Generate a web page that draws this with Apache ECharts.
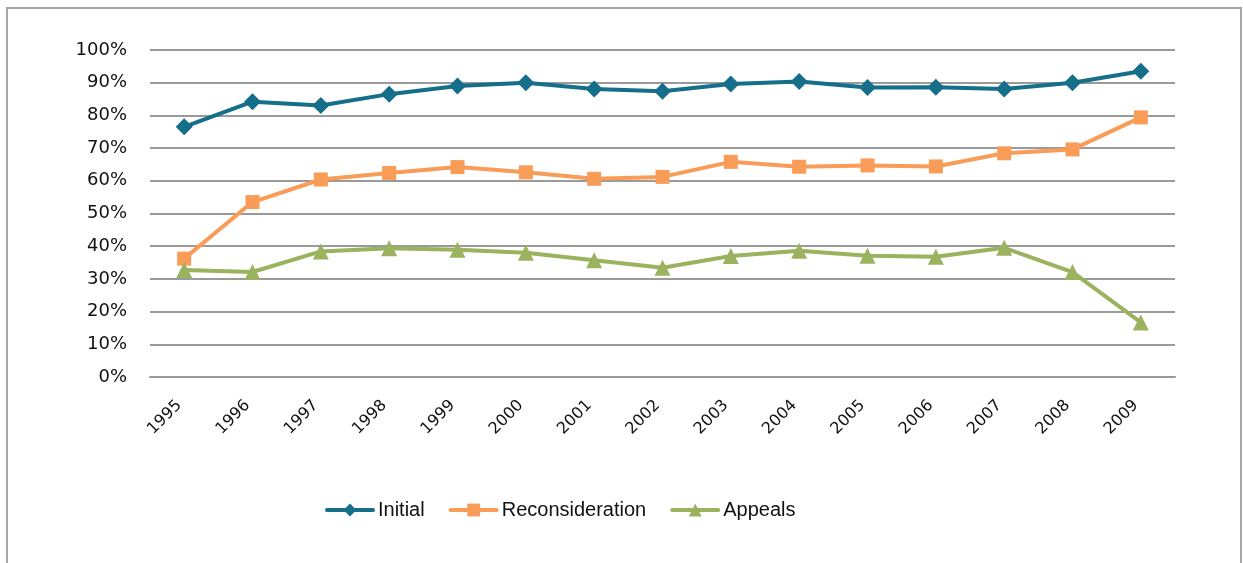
<!DOCTYPE html>
<html><head><meta charset="utf-8">
<script src="https://cdn.jsdelivr.net/npm/echarts@6/dist/echarts.min.js"></script>
<style>html,body{margin:0;padding:0;background:#fff}#c{width:1243px;height:563px}</style>
</head><body><div id="c"></div>
<script>
const years = ['1995','1996','1997','1998','1999','2000','2001','2002','2003','2004','2005','2006','2007','2008','2009'];
const initial = [76.5, 84.2, 83.0, 86.5, 89.0, 90.0, 88.1, 87.4, 89.6, 90.4, 88.5, 88.6, 88.1, 90.0, 93.5];
const reconsideration = [36.2, 53.5, 60.4, 62.4, 64.2, 62.6, 60.6, 61.2, 65.8, 64.3, 64.7, 64.4, 68.4, 69.6, 79.4];
const appeals = [32.7, 32.1, 38.4, 39.4, 38.9, 38.0, 35.7, 33.4, 37.0, 38.6, 37.1, 36.8, 39.5, 32.1, 16.7];
const yTicks = [0, 10, 20, 30, 40, 50, 60, 70, 80, 90, 100];

const axisFont = '"DejaVu Sans", "Liberation Sans", sans-serif';
const legendFont = '"Liberation Sans", sans-serif';
const chart = echarts.init(document.getElementById('c'), null, {renderer: 'canvas'});
chart.setOption({
  animation: false,
  backgroundColor: '#fff',
  graphic: [{
    type: 'rect', shape: {x: 7, y: 8, width: 1234, height: 570},
    style: {fill: 'none', stroke: '#a6a6a6', lineWidth: 2}, silent: true
  }],
  grid: {left: 150, right: 68, top: 50, bottom: 186, containLabel: false},
  legend: {
    left: 320, top: 495, itemWidth: 46, itemHeight: 16, itemGap: 24,
    lineStyle: {width: 4, cap: 'round'},
    textStyle: {fontFamily: legendFont, fontSize: 20, color: '#111'},
    data: ['Initial', 'Reconsideration', 'Appeals']
  },
  xAxis: {
    type: 'category', data: years, boundaryGap: true,
    axisLine: {lineStyle: {color: '#9a9a9a', width: 2}},
    axisTick: {length: 7, lineStyle: {color: '#9a9a9a', width: 2}},
    axisLabel: {rotate: 45, margin: 21, padding: [0, 7, 0, 0], fontFamily: axisFont, fontSize: 16, color: '#111'}
  },
  yAxis: {
    type: 'value', min: yTicks[0], max: yTicks[yTicks.length - 1], interval: 10,
    axisLine: {show: false}, axisTick: {show: false},
    splitLine: {lineStyle: {color: '#9a9a9a', width: 2}},
    axisLabel: {formatter: v => v + '%', margin: 23, fontFamily: axisFont, fontSize: 18, color: '#111'}
  },
  series: [
    {name: 'Initial', type: 'line', data: initial, symbol: 'diamond', symbolSize: 17,
     lineStyle: {color: '#156e8a', width: 4}, itemStyle: {color: '#156e8a'}},
    {name: 'Reconsideration', type: 'line', data: reconsideration, symbol: 'rect', symbolSize: 14,
     lineStyle: {color: '#f89c58', width: 4}, itemStyle: {color: '#f89c58'}},
    {name: 'Appeals', type: 'line', data: appeals, symbol: 'triangle', symbolSize: 16,
     lineStyle: {color: '#9bb25e', width: 4}, itemStyle: {color: '#9bb25e'}}
  ]
});
</script></body></html>
